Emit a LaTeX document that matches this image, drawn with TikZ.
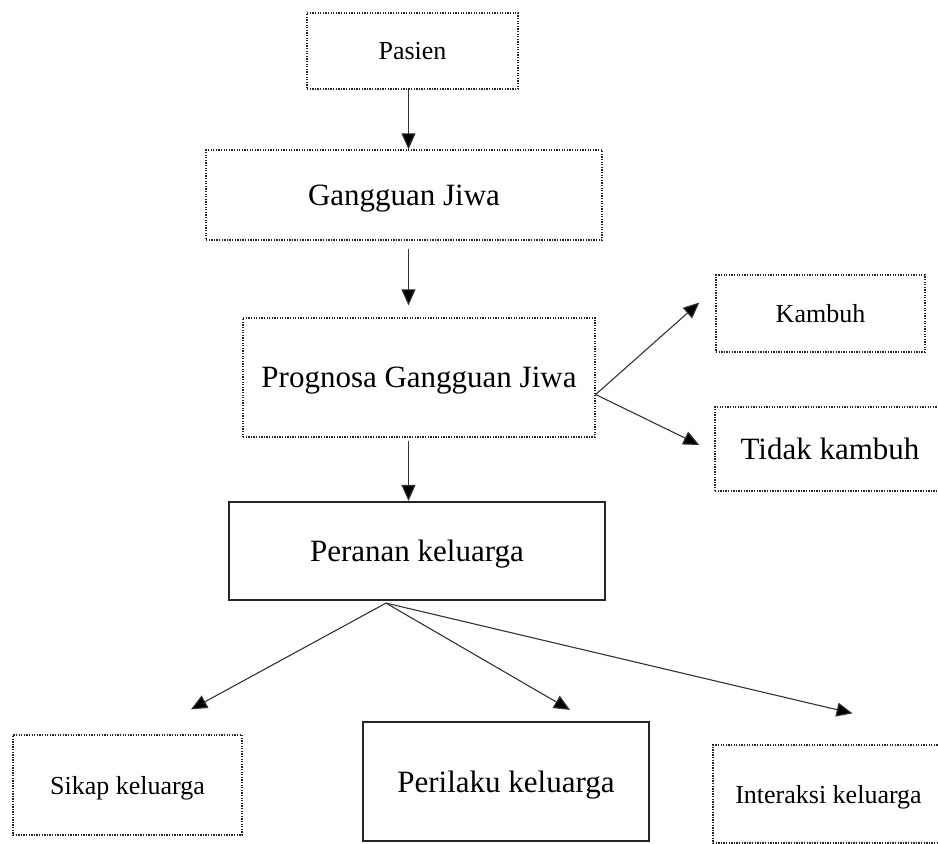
\documentclass[tikz,border=0pt]{standalone}
\usepackage{fontspec}
\setmainfont{Liberation Serif}
\usetikzlibrary{calc, arrows.meta}

\begin{document}
\begin{tikzpicture}[
	x=1pt, y=-1pt,
	dotbox/.style={draw=black!85, line width=1.3pt, dash pattern=on 1.3pt off 1.3pt, anchor=center, inner sep=0pt, text depth=0pt},
	solidbox/.style={draw=black!85, line width=2.2pt, anchor=center, inner sep=0pt, text depth=0pt},
	small/.style={font=\fontsize{26}{30}\selectfont},
	big/.style={font=\fontsize{31}{36}\selectfont},
	arrow/.style={-{Triangle[length=16pt,width=14pt,fill=black]}, line width=1.1pt, color=black!80}
	]
	\useasboundingbox (0,0) rectangle (938,844);
	
	% Vertical chain
	\node[dotbox, small, minimum width=211pt, minimum height=76pt] (pasien) at (412.5,51) {Pasien};
	\node[dotbox, big, minimum width=396pt, minimum height=90pt] (gangguan) at (404,195) {Gangguan Jiwa};
	\node[dotbox, big, minimum width=352pt, minimum height=119pt] (prognosa) at (419,377.5) {Prognosa Gangguan Jiwa};
	\node[solidbox, big, minimum width=376pt, minimum height=98pt] (peranan) at (417,551) {Peranan keluarga};
	\coordinate (spine) at (408.5,0);
	
	% Right branch
	\node[dotbox, small, minimum width=209pt, minimum height=77pt] (kambuh) at (820.5,313.5) {Kambuh};
	\node[dotbox, big, minimum width=230pt, minimum height=84pt] (tidak) at (830,449) {Tidak kambuh};
	
	% Bottom row
	\node[dotbox, small, minimum width=229pt, minimum height=100pt] (sikap) at (127.5,785) {Sikap keluarga};
	\node[solidbox, big, minimum width=286pt, minimum height=119pt] (perilaku) at (506,781.5) {Perilaku keluarga};
	\node[dotbox, small, minimum width=231pt, minimum height=98pt] (interaksi) at (828.5,794) {Interaksi keluarga};
	
	% Arrows
	\draw[arrow] (pasien.south -| spine) -- (gangguan.north -| spine);
	\draw[arrow, shorten <=8pt, shorten >=12pt] (gangguan.south -| spine) -- (prognosa.north -| spine);
	\draw[arrow, shorten <=3pt] (prognosa.south -| spine) -- (peranan.north -| spine);
	\draw[arrow] ($(prognosa.east)+(0,17)$) -- ($(kambuh.west)+(-16,-11)$);
	\draw[arrow] ($(prognosa.east)+(0,17)$) -- ($(tidak.west)+(-15,-4)$);
	\draw[arrow] ($(peranan.south)+(-31,2)$) -- ($(sikap.north)+(63.5,-25)$);
	\draw[arrow] ($(peranan.south)+(-31,2)$) -- ($(perilaku.north)+(64,-11)$);
	\draw[arrow] ($(peranan.south)+(-31,2)$) -- ($(interaksi.north)+(24,-31)$);
	
\end{tikzpicture}
\end{document}
